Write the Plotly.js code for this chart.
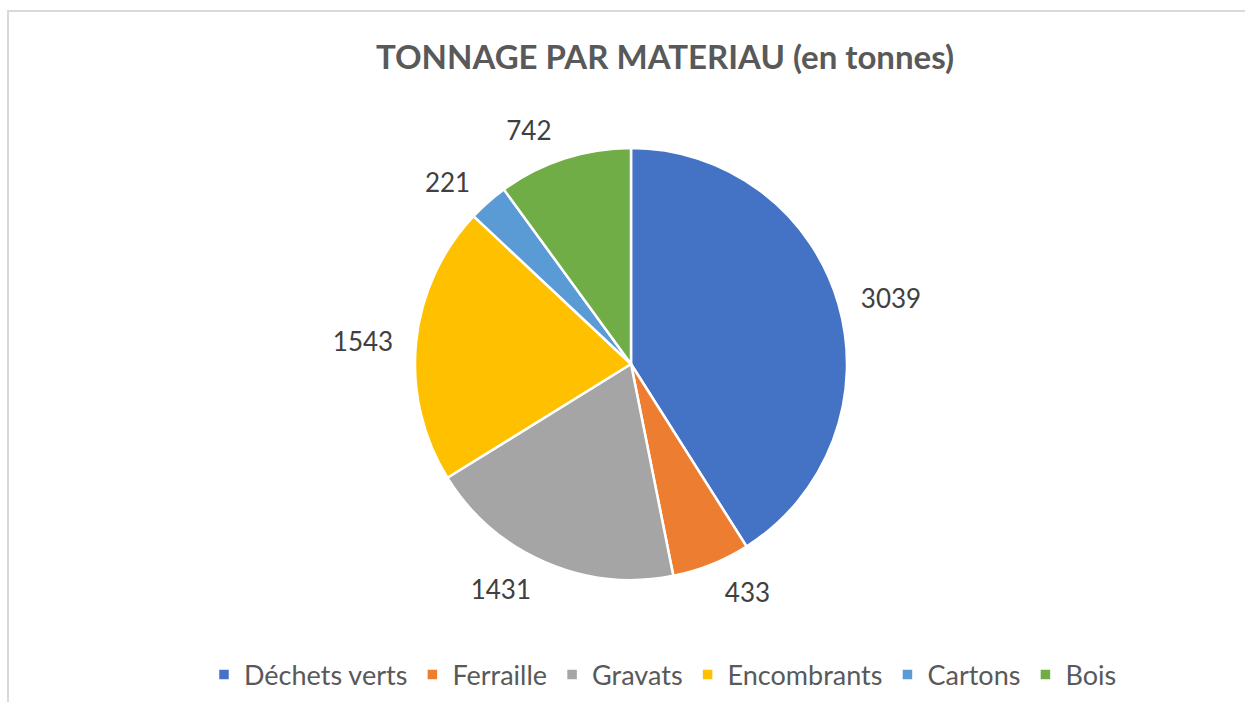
<!DOCTYPE html>
<html>
<head>
<meta charset="utf-8">
<script src="https://cdn.plot.ly/plotly-3.0.1.min.js"></script>
<style>
  html, body { margin: 0; padding: 0; background: #ffffff; overflow: hidden; }
  #chart { position: absolute; left: 0; top: 0; width: 1245px; height: 702px; }
  #frame { position: absolute; left: 7px; top: 10px; width: 1300px; height: 800px;
           border: 2px solid #d9d9d9; pointer-events: none; }
</style>
</head>
<body>
<div id="chart"></div>
<div id="frame"></div>
<script>
const categories = ["Déchets verts", "Ferraille", "Gravats", "Encombrants", "Cartons", "Bois"];
const tonnages = [3039, 433, 1431, 1543, 221, 742];
const sliceColors = ["#4472C4", "#ED7D31", "#A5A5A5", "#FFC000", "#5B9BD5", "#70AD47"];
const chartTitle = "TONNAGE PAR MATERIAU (en tonnes)";

const W = 1245, H = 702;
const cx = 631, cy = 364, r = 216;
const labelR = r + 15;   // data labels sit a little further out, as in the original
const FONT = "Lato, 'Open Sans', sans-serif";

function domainFor(rad) {
  return {
    x: [(cx - rad) / W, (cx + rad) / W],
    y: [(H - cy - rad) / H, (H - cy + rad) / H]
  };
}

const pieTrace = {
  type: "pie",
  labels: categories,
  values: tonnages,
  sort: false,
  direction: "clockwise",
  rotation: 0,
  marker: { colors: sliceColors, line: { color: "#ffffff", width: 2.5 } },
  textinfo: "none",
  hoverinfo: "skip",
  domain: domainFor(r)
};

const labelTrace = {
  type: "pie",
  labels: categories,
  values: tonnages,
  sort: false,
  direction: "clockwise",
  rotation: 0,
  showlegend: false,
  marker: { colors: categories.map(() => "rgba(0,0,0,0)"), line: { width: 0 } },
  texttemplate: "%{value}",
  textposition: "outside",
  outsidetextfont: { family: FONT, size: 26, color: "#404040" },
  hoverinfo: "skip",
  domain: domainFor(labelR)
};

const layout = {
  width: W,
  height: H,
  margin: { l: 0, r: 0, t: 0, b: 0 },
  paper_bgcolor: "#ffffff",
  font: { family: FONT, color: "#595959" },
  title: {
    text: "<b>" + chartTitle + "</b>",
    font: { family: FONT, size: 33, color: "#595959" },
    x: 665 / W, xanchor: "center",
    yref: "container", y: 1 - 57 / H, yanchor: "middle"
  },
  showlegend: true,
  legend: {
    orientation: "h",
    x: 663 / W, xanchor: "center",
    y: 1 - 675 / H, yanchor: "middle",
    font: { family: FONT, size: 27, color: "#595959" },
    traceorder: "normal"
  }
};

Plotly.newPlot("chart", [pieTrace, labelTrace], layout, { displayModeBar: false, staticPlot: true });
</script>
</body>
</html>
